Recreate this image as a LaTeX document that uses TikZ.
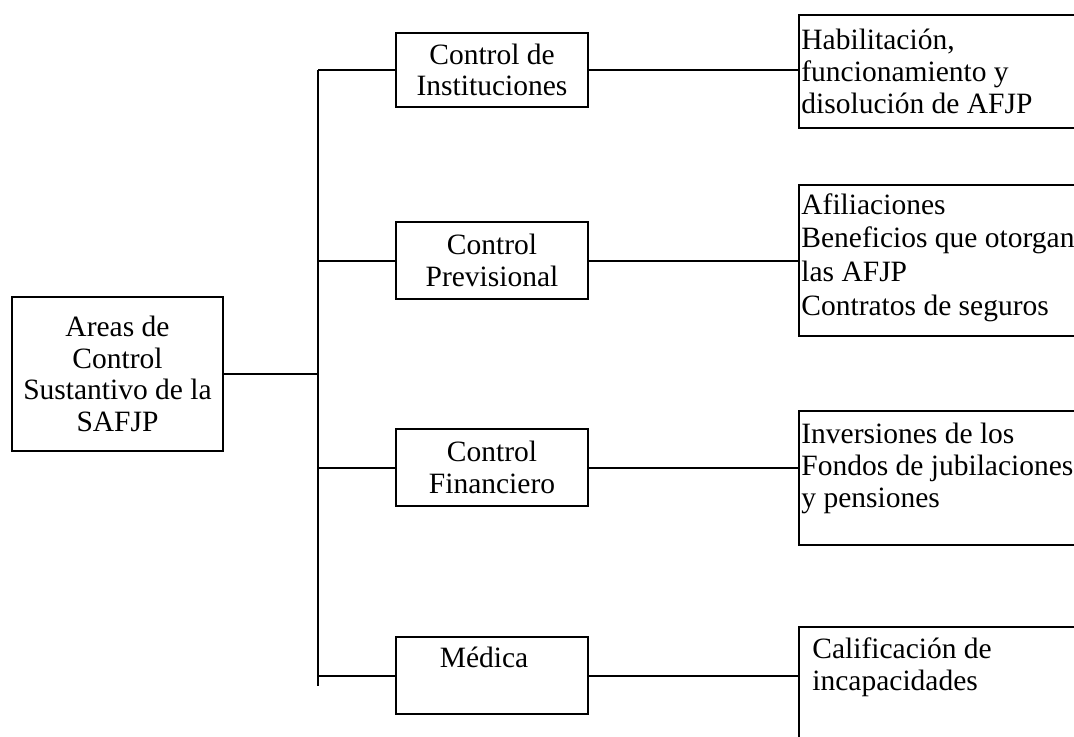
\documentclass[tikz,border=0pt]{standalone}
\usepackage{fontspec}
\setmainfont{Liberation Serif}
\usetikzlibrary{positioning,calc}
\tikzset{
  box/.style={draw=black, line width=1pt, inner sep=0pt},
  midbox/.style={box, minimum width=96pt, minimum height=38.5pt, align=center},
  rbox/.style={box, minimum width=151pt, anchor=north west},
  txt/.style={inner sep=0pt, align=left, anchor=base west},
  branch/.style={draw=black, line width=1pt}
}

\begin{document}
\begin{tikzpicture}[x=0.5pt, y=-0.5pt, font=\fontsize{14.75}{15.8}\selectfont]
    \clip (0,0) rectangle (1074,736);

    \node[box, minimum width=105.5pt, minimum height=77pt, align=center] (root) at (117.5,374)
      {Areas de\\Control\\Sustantivo de la\\SAFJP};

    \coordinate (tt) at (318,70);
    \coordinate (tb) at (318,686);

    \draw[branch] (tt) -- (tb);
    \draw[branch] (root.east) -- (root.east -| tt);

    \node[midbox, minimum height=37pt] (inst) at (492,70) {Control de\\Instituciones};
    \node[midbox] (prev) at (492,260.5) {Control\\Previsional};
    \node[midbox] (fin)  at (492,467.5) {Control\\Financiero};
    \node[midbox] (med)  at (492,675.5) {};
    \node[inner sep=0pt, anchor=base] (medt) at ([xshift=-4pt,yshift=-15.5pt]med.north) {Médica};

    \node[rbox, minimum height=56.5pt] (hab) at (798,14) {};
    \node[rbox, minimum height=75.5pt] (afi) at (798,184) {};
    \node[rbox, minimum height=67pt]   (inv) at (798,410) {};
    \node[rbox, minimum height=70pt]   (cal) at (798,626) {};

    % base anchor sits on the last line
    \node[txt] (habt) at ([xshift=1.5pt,yshift=-49.5pt]hab.north west)
      {Habilitación,\\funcionamiento y\\disolución de AFJP};
    \node[txt, font=\fontsize{14.75}{16.8}\selectfont] (afit) at ([xshift=1.5pt,yshift=-65.5pt]afi.north west)
      {Afiliaciones\\Beneficios que otorgan\\las AFJP\\Contratos de seguros};
    \node[txt] (invt) at ([xshift=1.5pt,yshift=-48.5pt]inv.north west)
      {Inversiones de los\\Fondos de jubilaciones\\y pensiones};
    \node[txt] (calt) at ([xshift=7pt,yshift=-32pt]cal.north west)
      {Calificación de\\incapacidades};

    \draw[branch] (inst.west -| tt) -- (inst.west);
    \draw[branch] (prev.west -| tt) -- (prev.west);
    \draw[branch] (fin.west -| tt)  -- (fin.west);
    \draw[branch] (med.west -| tt)  -- (med.west);

    \draw[branch] (inst.east) -- (inst.east -| hab.west);
    \draw[branch] (prev.east) -- (prev.east -| afi.west);
    \draw[branch] (fin.east)  -- (fin.east -| inv.west);
    \draw[branch] (med.east)  -- (med.east -| cal.west);
  \end{tikzpicture}
\end{document}
